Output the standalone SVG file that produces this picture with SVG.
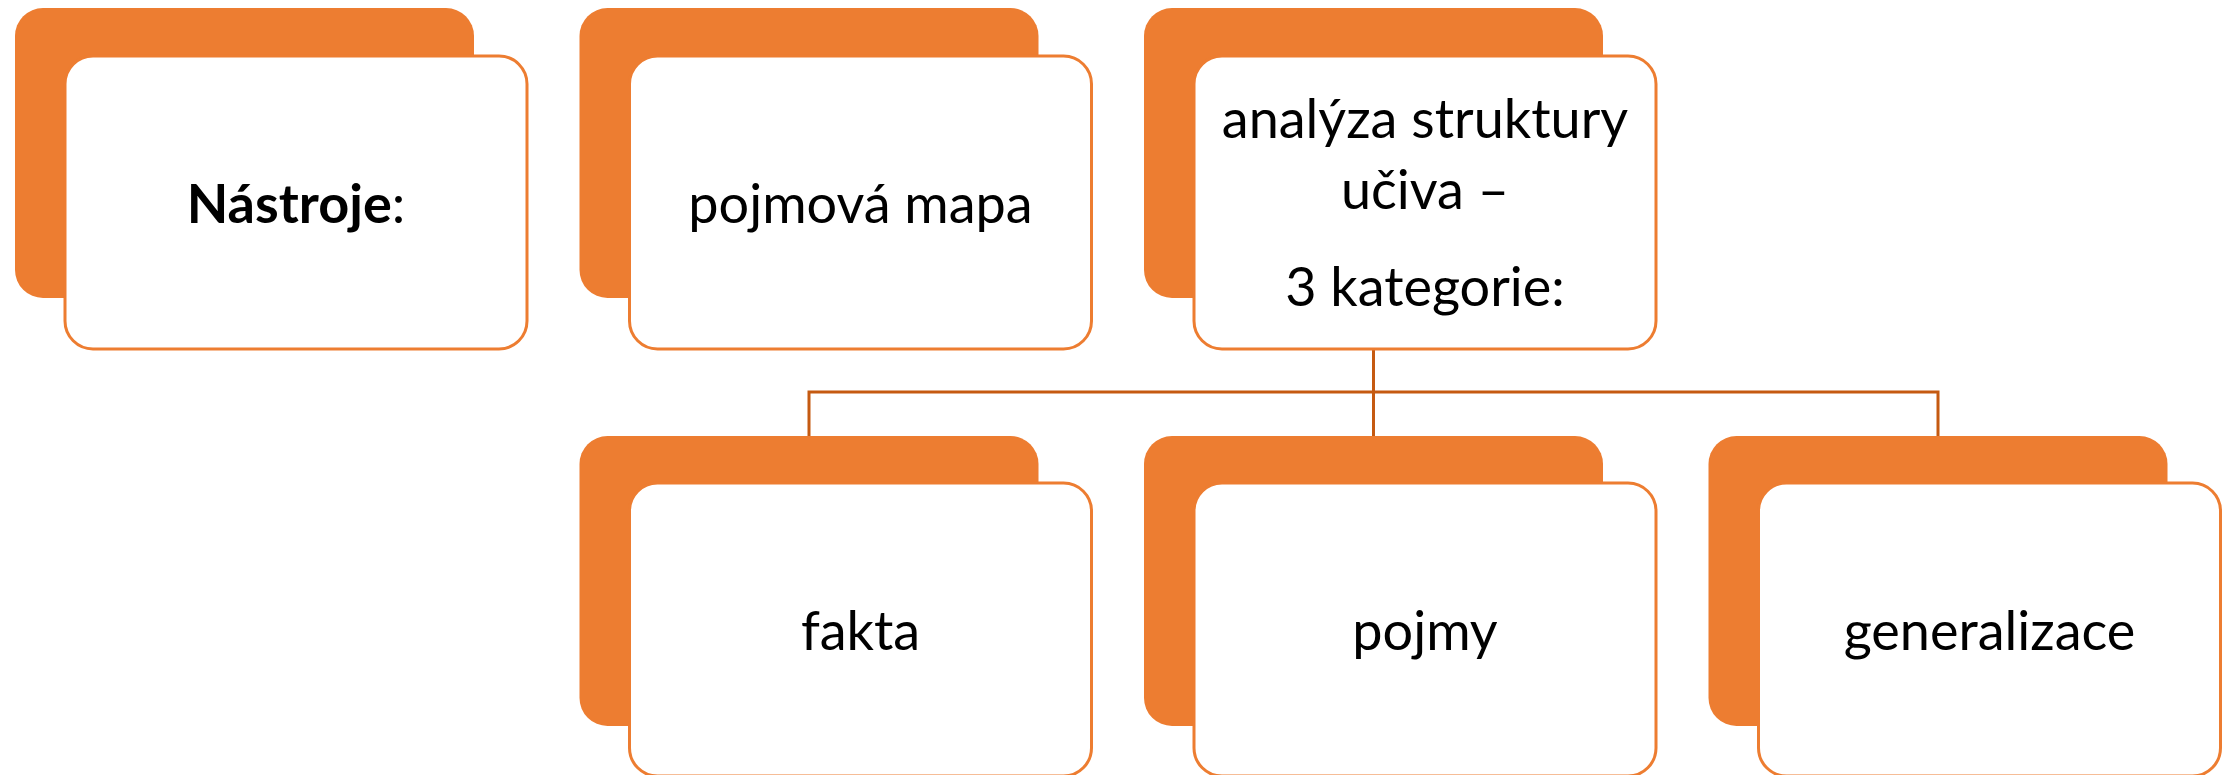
<svg xmlns="http://www.w3.org/2000/svg" width="2226" height="775" viewBox="0 0 2226 775">
<defs>
<style>
.back{fill:#ED7D31;}
.front{fill:#FFFFFF;stroke:#ED7D31;stroke-width:3;}
.t{font-family:Lato,"Noto Sans",sans-serif;font-size:54px;fill:#000000;text-anchor:middle;}
.b{font-weight:bold;}
.conn{fill:none;stroke:#C55A11;stroke-width:3;}
</style>
</defs>
<rect width="2226" height="775" fill="#FFFFFF"/>
<g id="connectors">
<path class="conn" d="M1373.5,349 V436"/>
<path class="conn" d="M809,436 V392 H1938 V436"/>
</g>
<g id="node-nastroje">
<rect class="back" x="15" y="8" width="459" height="290" rx="28"/>
<rect class="front" x="65" y="56" width="462" height="293" rx="28"/>
<text class="t" x="296" y="223"><tspan class="b">Nástroje</tspan>:</text>
</g>
<g id="node-pojmova-mapa">
<rect class="back" x="579.5" y="8" width="459" height="290" rx="28"/>
<rect class="front" x="629.5" y="56" width="462" height="293" rx="28"/>
<text class="t" x="860.5" y="223">pojmová mapa</text>
</g>
<g id="node-analyza">
<rect class="back" x="1144" y="8" width="459" height="290" rx="28"/>
<rect class="front" x="1194" y="56" width="462" height="293" rx="28"/>
<text class="t" x="1425" y="138">analýza struktury</text>
<text class="t" x="1425" y="209">učiva –</text>
<text class="t" x="1425" y="306">3 kategorie:</text>
</g>
<g id="node-fakta">
<rect class="back" x="579.5" y="436" width="459" height="290" rx="28"/>
<rect class="front" x="629.5" y="483" width="462" height="293" rx="28"/>
<text class="t" x="860.5" y="650">fakta</text>
</g>
<g id="node-pojmy">
<rect class="back" x="1144" y="436" width="459" height="290" rx="28"/>
<rect class="front" x="1194" y="483" width="462" height="293" rx="28"/>
<text class="t" x="1425" y="650">pojmy</text>
</g>
<g id="node-generalizace">
<rect class="back" x="1708.5" y="436" width="459" height="290" rx="28"/>
<rect class="front" x="1758.5" y="483" width="462" height="293" rx="28"/>
<text class="t" x="1989.5" y="650">generalizace</text>
</g>
</svg>
